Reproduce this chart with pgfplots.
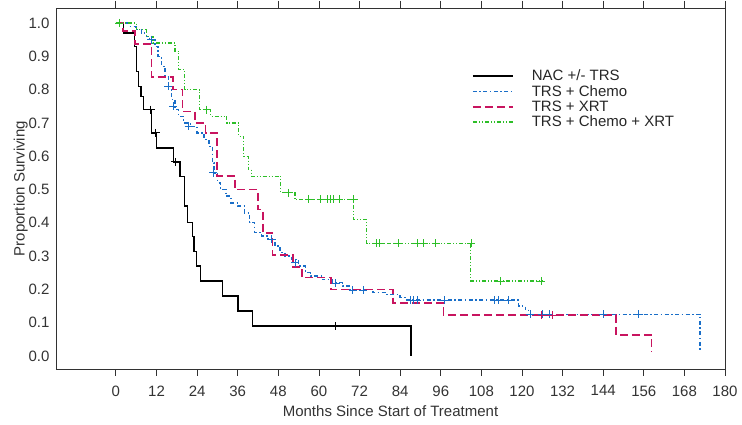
\documentclass[border=0pt]{standalone}
\usepackage{fontspec}
\setmainfont{Liberation Sans}
\usepackage{pgfplots}
\pgfplotsset{compat=1.18}
\usetikzlibrary{calc}

\definecolor{kmblue}{RGB}{25,110,200}
\definecolor{kmred}{RGB}{200,20,95}
\definecolor{kmgreen}{RGB}{45,190,40}
\definecolor{frame}{RGB}{50,50,50}

\begin{document}
\begin{tikzpicture}
\begin{axis}[name=ax,
  scale only axis, width=669pt, height=361pt,
  xmin=-17.7, xmax=180, ymin=-0.039, ymax=1.045,
  xtick={0,12,...,180},
  ytick={0,0.1,0.2,0.3,0.4,0.5,0.6,0.7,0.8,0.9,1.0},
  yticklabel style={xshift=4pt, /pgf/number format/.cd,fixed,fixed zerofill,precision=1},
  /pgf/number format/assume math mode=true,
  tick align=outside, major tick length=7pt,
  ytick style={draw=none},
  xtick style={frame, line width=0.8pt},
  axis line style={frame, line width=0.9pt},
  ticklabel style={font=\fontsize{15}{16}\selectfont, text=black!80},
  xticklabel style={yshift=-6pt},
  label style={font=\fontsize{15}{16}\selectfont, text=black!80},
  xlabel={Months Since Start of Treatment},
  xlabel style={yshift=-3pt},
  ylabel={Proportion Surviving},
  ylabel style={yshift=-6pt},
  legend cell align=left,
  legend style={draw=none, fill=none, at={(0.617,0.84)}, anchor=north west,
    font=\fontsize{15}{15}\selectfont, text=black!85, row sep=-1pt},
  legend image code/.code={\draw[#1] (0pt,0pt) -- (40pt,0pt); \path (56pt,0pt);},
  clip=false]

% NAC +/- TRS
\addplot[const plot, black, line width=1.3pt] coordinates {
(0,1.0)(2.2,0.97)(5.6,0.93)(6.0,0.854)(6.6,0.81)(7.4,0.78)(8.1,0.74)
(10.5,0.67)(12,0.625)(17.1,0.583)(18.9,0.54)(20.2,0.45)(21.2,0.40)
(22.7,0.358)(23.1,0.313)(23.8,0.27)(25.1,0.225)(31.5,0.18)(36.1,0.135)
(40.4,0.09)(87.2,0.0)};
\addlegendentry{NAC +/- TRS}

% TRS + Chemo
\addplot[const plot, kmblue, line width=1.4pt, dash pattern=on 4pt off 2.5pt on 1.5pt off 2.5pt] coordinates {
(0,1.0)(4,0.99)(6,0.98)(7.5,0.97)(9,0.96)(10,0.95)(11.5,0.93)(12.5,0.90)
(13.5,0.87)(14.5,0.84)(15.5,0.81)(16.5,0.77)(17.5,0.74)(18.5,0.72)(20,0.70)
(22,0.69)(24,0.67)(26,0.65)(27.5,0.63)(28.5,0.58)(29,0.55)(30,0.52)(31,0.50)
(32.5,0.48)(34,0.46)(36,0.45)(38,0.43)(39.5,0.40)(41,0.37)(43,0.36)(45,0.35)
(47,0.33)(48.5,0.31)(50,0.30)(52,0.29)(54,0.27)(56,0.25)(57.5,0.24)(61,0.23)
(64,0.22)(67,0.21)(69,0.20)(76,0.19)(80,0.185)(84,0.175)(86,0.168)(119,0.15)
(121,0.14)(122,0.125)(172.6,0.015)};
\addlegendentry{TRS + Chemo}

% TRS + XRT
\addplot[const plot, kmred, line width=1.8pt, dash pattern=on 8pt off 4pt] coordinates {
(0,1.0)(2.2,0.975)(5.6,0.937)(10.5,0.837)(16.8,0.80)(19.7,0.734)(23.4,0.70)
(26.5,0.67)(29.8,0.54)(35.2,0.50)(42,0.44)(43.5,0.37)(46.3,0.303)(52.3,0.268)
(54.9,0.236)(63.6,0.20)(82,0.16)(96.8,0.123)(147.8,0.063)(158.3,0.013)};
\addlegendentry{TRS + XRT}

% TRS + Chemo + XRT
\addplot[const plot, kmgreen, line width=1.3pt, dash pattern=on 4pt off 2pt on 1pt off 2pt on 1pt off 2pt] coordinates {
(0,1.0)(6,0.98)(9,0.96)(11,0.94)(17.5,0.915)(18.5,0.86)(20.3,0.80)(24.8,0.74)
(28,0.72)(32.7,0.70)(36.2,0.66)(37.8,0.60)(39.1,0.56)(40,0.54)(48.7,0.49)
(52.9,0.47)(70.2,0.41)(74.1,0.338)(104.8,0.225)(126,0.225)};
\addlegendentry{TRS + Chemo + XRT}

% censored observations
\addplot[only marks, mark=+, mark size=4pt, black, line width=0.8pt, forget plot] coordinates {
(10.3,0.74)(11.8,0.67)(17.5,0.583)(65,0.09)};
\addplot[only marks, mark=+, mark size=4pt, kmblue, line width=0.8pt, forget plot] coordinates {
(10.5,0.95)(15.5,0.81)(17,0.75)(21.5,0.69)(28.8,0.55)(46,0.35)(53,0.28)(65,0.218)
(70,0.198)(73,0.198)(87,0.168)(88,0.168)(89,0.168)(97,0.168)(112,0.168)(113,0.168)
(116,0.168)(122.5,0.125)(126,0.125)(128,0.125)(144,0.125)(154.5,0.125)};
\addplot[only marks, mark=+, mark size=4pt, kmred, line width=0.8pt, forget plot] coordinates {
(125.8,0.123)(129,0.123)};
\addplot[only marks, mark=+, mark size=4pt, kmgreen, line width=0.8pt, forget plot] coordinates {
(1,1.0)(26.8,0.74)(51.1,0.49)(57,0.47)(60.5,0.47)(62.5,0.47)(63.5,0.47)(64.2,0.47)
(66,0.47)(70.3,0.47)(77,0.338)(78,0.338)(83.5,0.338)(89.2,0.338)(91,0.338)
(94.5,0.338)(105,0.338)(113.7,0.225)(125.6,0.225)};
\end{axis}
\path ($(ax.south west)+(-56pt,-56pt)$) rectangle ($(ax.north east)+(17pt,8pt)$);
\end{tikzpicture}
\end{document}
